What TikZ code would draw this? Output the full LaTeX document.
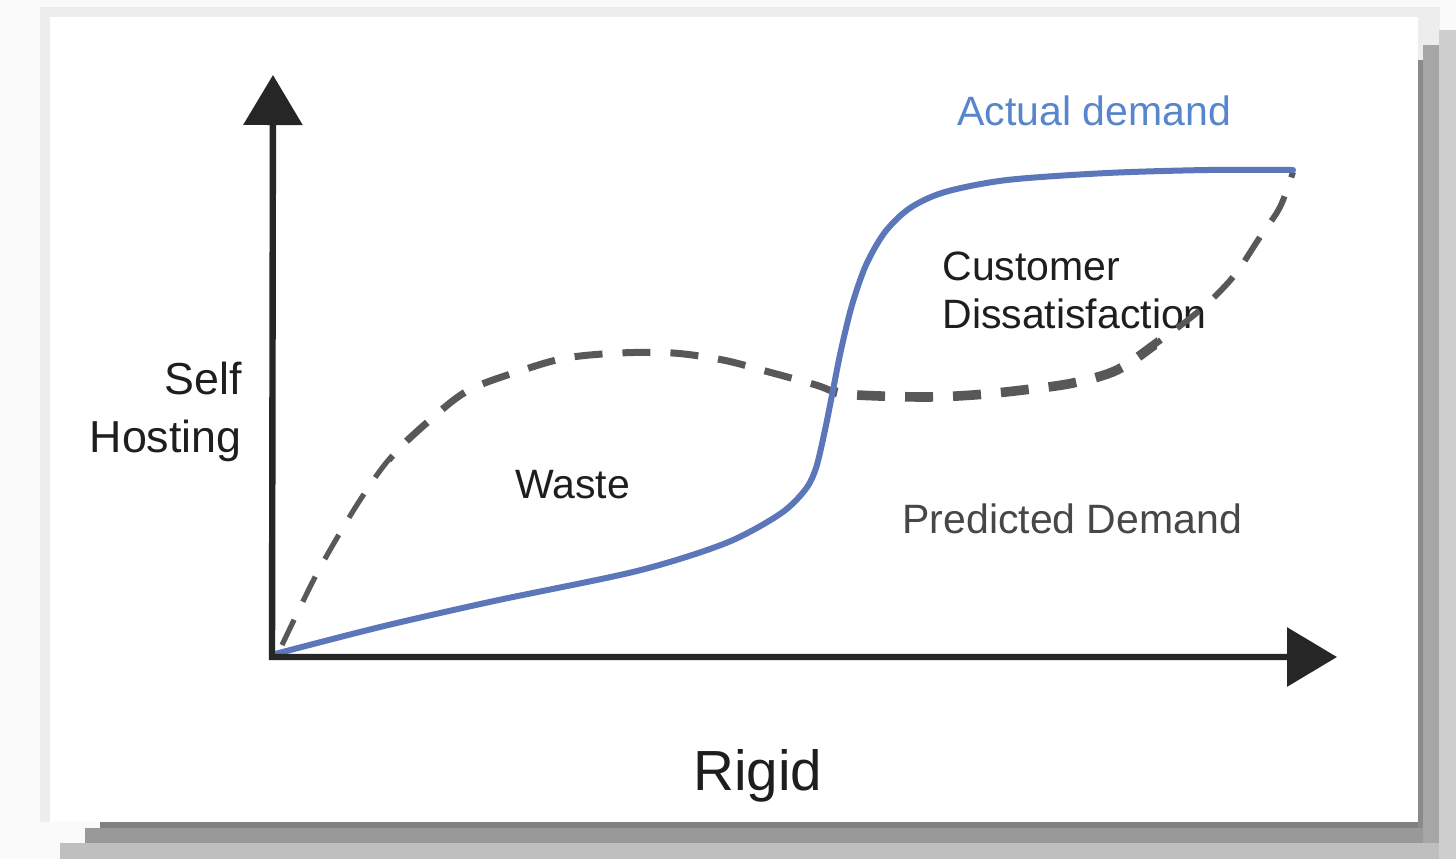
\documentclass[tikz,border=0pt]{standalone}
\usepackage{fontspec}
\setmainfont{Liberation Sans}
\usetikzlibrary{arrows.meta}

\definecolor{actual}{RGB}{92,118,186}
\definecolor{actualtext}{RGB}{88,134,204}
\definecolor{predicted}{RGB}{88,88,88}
\definecolor{textdark}{RGB}{30,30,30}

\newcommand{\predpath}{plot[smooth, tension=0.55] coordinates {(282,645) (312,583) (334,543) (362,497) (391,457) (430,420) (469,390) (523,370) (566,358) (619,353) (673,353) (723,360) (769,372) (816,385) (835,392) (857,395) (923,397) (973,395) (1023,390) (1073,383) (1117,370) (1157,343) (1200,310) (1233,277) (1260,237) (1280,207) (1293,172)}}

\begin{document}
\begin{tikzpicture}[x=0.5pt,y=-0.5pt,
	lbl/.style={inner sep=0pt, text=textdark, font=\fontsize{20.5}{24}\selectfont},
	axis/.style={line width=3.2pt, black!85, line join=miter,
		{Triangle[length=25pt,width=29pt]}-{Triangle[length=25pt,width=29pt]}},
	demand/.style={line width=3pt, actual, line cap=round},
	guess/.style={predicted, dash pattern=on 14pt off 10pt}]
	\useasboundingbox (0,0) rectangle (1456,859);
	% card with its shadow
	\fill[black!2] (0,0) rectangle (1456,859);
	\fill[black!7] (40,7) rectangle (1440,822);
	\fill[black!25] (60,843) rectangle (1456,859);
	\fill[black!40] (85,828) rectangle (1439,843);
	\fill[black!50] (100,822) rectangle (1423,828);
	\fill[black!19] (1439,30) rectangle (1456,859);
	\fill[black!35] (1423,45) rectangle (1439,843);
	\fill[black!46] (1418,60) rectangle (1423,828);
	\fill[white] (50,17) rectangle (1418,822);

	\coordinate (o) at (272,657);
	\coordinate (ytip) at (273,75);
	\coordinate (xtip) at (1337,657);

	\node[lbl, text=actualtext, anchor=base west] (actuallbl) at (957,125) {Actual demand};
	\node[lbl, align=left, anchor=base west] (dissat) at (942,328) {Customer\\Dissatisfaction};
	\node[lbl, anchor=base west] (waste) at (515,498) {Waste};
	\node[lbl, text=black!72, anchor=base west] (predlbl) at (902,533) {Predicted Demand};
	\node[lbl, align=right, anchor=base east, font=\fontsize{22.4}{29}\selectfont] (ylbl) at (242,452) {Self\\Hosting};
	\node[lbl, anchor=base, font=\fontsize{28.3}{34}\selectfont] (xlbl) at (758,790) {Rigid};

	% predicted demand, dashed, thicker in the middle
	\begin{scope}
		\clip (270,100) rectangle (391,660);
		\draw[guess, line width=2.6pt] \predpath;
	\end{scope}
	\begin{scope}
		\clip (391,100) rectangle (835,660);
		\draw[guess, line width=3.5pt] \predpath;
	\end{scope}
	\begin{scope}
		\clip (835,100) rectangle (1157,660);
		\draw[guess, line width=4.8pt] \predpath;
	\end{scope}
	\begin{scope}
		\clip (1157,100) rectangle (1310,660);
		\draw[guess, line width=3pt] \predpath;
	\end{scope}

	% actual demand
	\draw[demand] plot[smooth, tension=0.5] coordinates {(275,654) (380,627) (494,601) (637,571) (726,543) (780,514) (805,490) (816,468) (825,430) (833,390) (841,350) (852,305) (866,265) (885,232) (910,208) (945,192) (1007,180) (1107,173) (1207,170) (1293,170)};

	% axes
	\draw[axis] (ytip) -- (o) -- (xtip);
\end{tikzpicture}
\end{document}
